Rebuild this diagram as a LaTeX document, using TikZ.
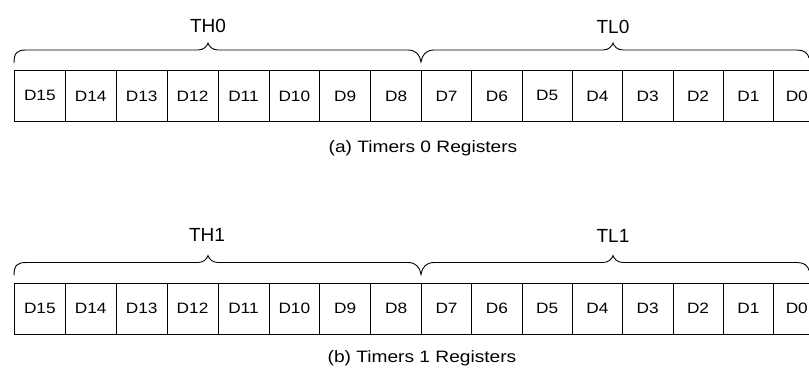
\documentclass[tikz,border=0pt]{standalone}
\usepackage{fontspec}
\setmainfont{Liberation Sans}
\begin{document}
\begin{tikzpicture}[x=1pt,y=-1pt,
  cell/.style={draw, line width=0.8pt, minimum height=51pt,
    inner sep=0pt, anchor=north west, font=\fontsize{15}{15}\selectfont},
  hicell/.style={cell, minimum width=50.9pt},
  locell/.style={cell, minimum width=50.3pt},
  celltext/.style={font=\fontsize{15}{15}\selectfont, inner sep=0pt, anchor=east},
  bracepath/.style={line width=0.9pt},
  lbl/.style={font=\fontsize{19}{19}\selectfont, inner sep=0pt},
  captext/.style={font=\fontsize{16.5}{16.5}\selectfont, inner sep=0pt}]
\useasboundingbox (0,0) rectangle (809,370);
\foreach \r/\dy in {0/0,1/212.5} {
  \foreach \i in {0,...,7} {
    \pgfmathtruncatemacro\b{15-\i}
    \node[hicell] (r\r c\b) at ({14+50.9*\i}, {70+\dy}) {\scalebox{1.15}[1]{D\b}};
  }
  \foreach \i in {0,...,6} {
    \pgfmathtruncatemacro\b{7-\i}
    \node[locell] (r\r c\b) at ({421+50.3*\i}, {70+\dy}) {\scalebox{1.15}[1]{D\b}};
  }
  \node[locell] (r\r c0) at ({421+50.3*7}, {70+\dy}) {};
  \node[celltext] (r\r t0) at (r\r c0.west -| 808,0) {\scalebox{1.15}[1]{D0}};
  \begin{scope}[shift={(0,\dy)}]
    \draw[bracepath] (14,63) .. controls (14,53) and (17,50) .. (26,50) -- (198,50)
      .. controls (204,50) and (207,46) .. (208,43)
      .. controls (209,46) and (212,50) .. (218,50) -- (408,50)
      .. controls (416,50) and (420,55) .. (421,62)
      .. controls (422,55) and (426,50) .. (434,50) -- (603,50)
      .. controls (609,50) and (612,46) .. (613,43)
      .. controls (614,46) and (617,50) .. (623,50) -- (797,50)
      .. controls (804,50) and (808,53) .. (809,58);
  \end{scope}
}
\node[lbl] (th0) at (208,26) {TH0};
\node[lbl] (tl0) at (613,27) {TL0};
\node[lbl] (th1) at (207,235) {TH1};
\node[lbl] (tl1) at (613,236) {TL1};
\node[captext] (capa) at (423,148) {\scalebox{1.16}[1]{(a) Timers 0 Registers}};
\node[captext] (capb) at (422,358) {\scalebox{1.16}[1]{(b) Timers 1 Registers}};
\end{tikzpicture}
\end{document}
